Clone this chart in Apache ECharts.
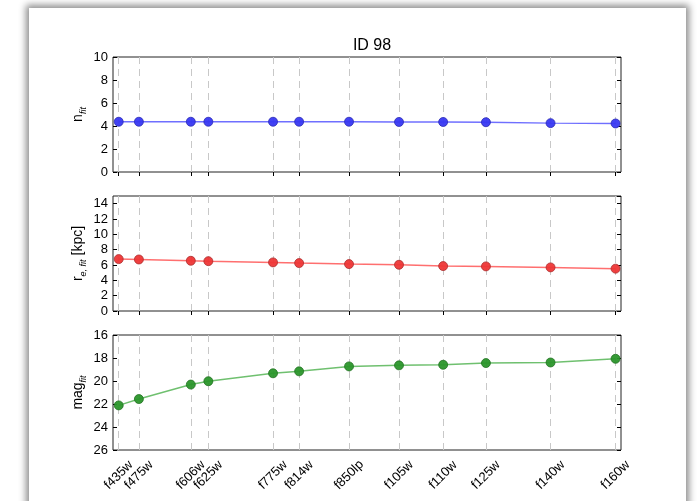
<!DOCTYPE html>
<html>
<head>
<meta charset="utf-8">
<script src="https://cdn.jsdelivr.net/npm/echarts@6/dist/echarts.min.js"></script>
<style>
html,body{margin:0;padding:0;background:#fff;width:698px;height:501px;overflow:hidden;}
#card{position:absolute;left:29px;top:8px;width:657px;height:510px;background:#fff;box-shadow:0 0 7px 3px rgba(0,0,0,0.45);}
#chart{position:absolute;left:0;top:0;width:698px;height:501px;}
</style>
</head>
<body>
<div id="card"></div>
<div id="chart"></div>
<script>
// Filter names and their effective wavelengths (x positions)
const filters = ['f435w','f475w','f606w','f625w','f775w','f814w','f850lp','f105w','f110w','f125w','f140w','f160w'];
const wavelengths = [4317, 4766, 5921, 6311, 7750, 8330, 9440, 10552, 11534, 12486, 13923, 15369];
// Fit results
const nFit   = [4.37, 4.37, 4.37, 4.37, 4.37, 4.37, 4.37, 4.35, 4.35, 4.33, 4.25, 4.22];
const reFit  = [6.77, 6.72, 6.55, 6.50, 6.34, 6.25, 6.12, 6.03, 5.86, 5.82, 5.69, 5.52];
const magFit = [22.12, 21.57, 20.31, 20.02, 19.33, 19.16, 18.73, 18.64, 18.59, 18.44, 18.39, 18.07];
const title = 'ID 98';

const xMin = 4190, xMax = 15490;
const FONT = 'Liberation Sans, Arial, sans-serif';
const grids = [
  {left:113, right:77, top:57, height:115},
  {left:113, right:77, top:196, height:115},
  {left:113, right:77, top:335, height:115}
];
const labelMap = {};
wavelengths.forEach((w,i)=>labelMap[w]=filters[i]);

const xAxes = [], yAxes = [], series = [];
const panels = [
  {data:nFit, min:0, max:10, interval:2, inverse:false, color:'#3838f2', edge:'#2828b0', line:'rgba(50,50,255,0.7)',
   name:'{m|n}{s|fit}'},
  {data:reFit, min:0, max:15, interval:2, inverse:false, color:'#ee3636', edge:'#a82a2a', line:'rgba(255,50,50,0.7)',
   name:'{m|r}{s|e, fit}{m| [kpc]}'},
  {data:magFit, min:16, max:26, interval:2, inverse:true, color:'#2b962b', edge:'#1f6e1f', line:'rgba(50,165,50,0.7)',
   name:'{m|mag}{s|fit}'}
];

panels.forEach((p, i) => {
  const last = i === panels.length - 1;
  xAxes.push({
    type:'value', gridIndex:i, min:xMin, max:xMax, position:'bottom',
    axisLine:{show:false},
    axisTick:{show:true, inside:true, length:4, customValues:wavelengths, lineStyle:{color:'#000'}},
    axisLabel:{show:last, customValues:wavelengths, formatter:v=>labelMap[v]||'',
      rotate:45, align:'center', verticalAlign:'middle', margin:25,
      fontFamily:FONT, fontSize:13, color:'#000'},
    splitLine:{show:false}
  });
  xAxes.push({
    type:'value', gridIndex:i, min:xMin, max:xMax, position:'top',
    axisLine:{show:false},
    axisTick:{show:true, inside:true, length:4, customValues:wavelengths, lineStyle:{color:'#000'}},
    axisLabel:{show:false}, splitLine:{show:false}
  });
  yAxes.push({
    type:'value', gridIndex:i, min:p.min, max:p.max, interval:p.interval, inverse:p.inverse, position:'left',
    axisLine:{show:false},
    axisTick:{show:true, inside:true, length:4, lineStyle:{color:'#000'}},
    axisLabel:{show:true, fontFamily:FONT, fontSize:13, color:'#000', margin:5, showMaxLabel: p.max !== 15},
    splitLine:{show:false},
    name:p.name, nameLocation:'middle', nameRotate:90, nameGap:25, nameMoveOverlap:false,
    nameTextStyle:{fontFamily:FONT, color:'#000',
      rich:{m:{fontSize:14, fontFamily:FONT, color:'#000', lineHeight:17, verticalAlign:'top'},
            s:{fontSize:9, fontFamily:FONT, fontStyle:'italic', color:'#000', lineHeight:17, verticalAlign:'bottom', padding:[8,0,0,0]}}}
  });
  yAxes.push({
    type:'value', gridIndex:i, min:p.min, max:p.max, interval:p.interval, inverse:p.inverse, position:'right',
    axisLine:{show:false},
    axisTick:{show:true, inside:true, length:4, lineStyle:{color:'#000'}},
    axisLabel:{show:false}, splitLine:{show:false}
  });
  series.push({
    type:'line', xAxisIndex:2*i, yAxisIndex:2*i,
    data: wavelengths.map((w,k)=>[w, p.data[k]]),
    symbol:'circle', symbolSize:9, showSymbol:true,
    lineStyle:{color:p.line, width:1.5},
    itemStyle:{color:p.color, borderColor:p.edge, borderWidth:0.8, opacity:0.95},
    z:3, animation:false,
    markLine:{silent:true, symbol:'none', z:1, animation:false,
      label:{show:false},
      lineStyle:{color:'#c8c8c8', type:[7,5], width:1},
      data: wavelengths.map(w=>({xAxis:w}))}
  });
});

const chart = echarts.init(document.getElementById('chart'), null, {renderer:'canvas'});
chart.setOption({
  backgroundColor:'transparent',
  animation:false,
  title:{text:title, left:367, top:33, textAlign:'center',
    textStyle:{fontFamily:FONT, fontSize:16, fontWeight:'normal', color:'#000'}},
  grid: grids.map(g=>Object.assign({show:true, borderColor:'#222', borderWidth:1, backgroundColor:'transparent'}, g)),
  xAxis:xAxes, yAxis:yAxes, series:series
});
</script>
</body>
</html>
